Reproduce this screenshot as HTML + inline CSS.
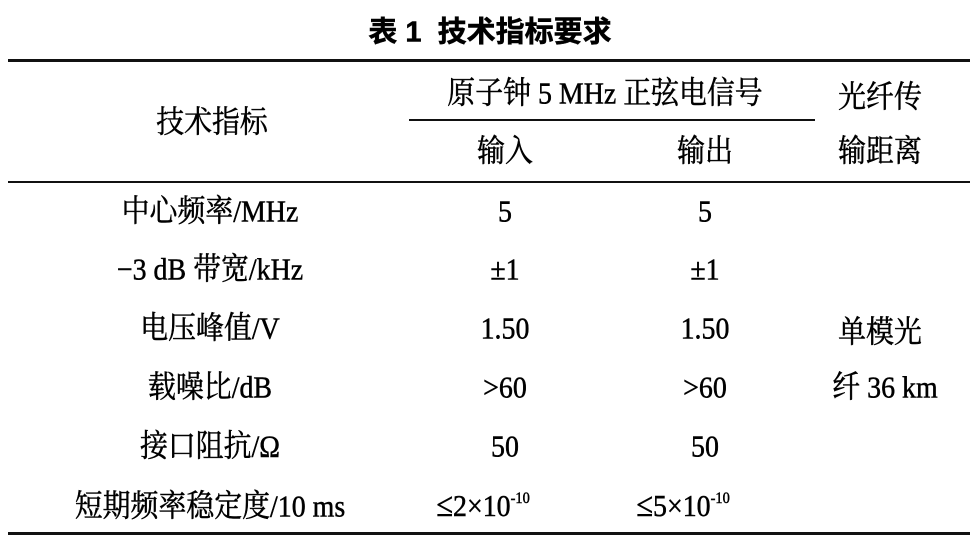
<!DOCTYPE html>
<html><head><meta charset="utf-8"><style>
body{margin:0;width:978px;height:548px;background:#fff;position:relative;overflow:hidden;font-family:"Liberation Serif","Noto Serif CJK SC",serif;color:#000}
.t{position:absolute;transform:translate(-50%,-50%) scaleX(0.9);white-space:nowrap;font-size:31px;line-height:1;-webkit-text-stroke:0.5px #000}
.r{position:absolute;background:#111}
sup{font-size:16px;vertical-align:13px}
.le{font-size:34px}
</style></head><body>
<div class="t" style="left:490px;top:33px;font-weight:bold;font-family:'Liberation Sans','Noto Sans CJK SC',sans-serif;font-size:29px;transform:translate(-50%,-50%)">表 1&nbsp; 技术指标要求</div>
<div class="r" style="left:8px;top:59px;width:962px;height:3px"></div>
<div class="r" style="left:409px;top:119px;width:406px;height:2px"></div>
<div class="r" style="left:8px;top:181px;width:962px;height:2px"></div>
<div class="r" style="left:8px;top:532px;width:962px;height:3px"></div>

<div class="t" style="left:212px;top:122px">技术指标</div>
<div class="t" style="left:605px;top:93px">原子钟 5 MHz 正弦电信号</div>
<div class="t" style="left:880px;top:97px">光纤传</div>
<div class="t" style="left:505px;top:151px">输入</div>
<div class="t" style="left:705px;top:151px">输出</div>
<div class="t" style="left:880px;top:151px">输距离</div>

<div class="t" style="left:210px;top:211px">中心频率/MHz</div>
<div class="t" style="left:505px;top:211px">5</div>
<div class="t" style="left:705px;top:211px">5</div>

<div class="t" style="left:210px;top:269px">−3 dB 带宽/kHz</div>
<div class="t" style="left:505px;top:269px">±1</div>
<div class="t" style="left:705px;top:269px">±1</div>

<div class="t" style="left:210px;top:328px">电压峰值/V</div>
<div class="t" style="left:505px;top:328px">1.50</div>
<div class="t" style="left:705px;top:328px">1.50</div>
<div class="t" style="left:880px;top:332px">单模光</div>

<div class="t" style="left:210px;top:387px">载噪比/dB</div>
<div class="t" style="left:505px;top:387px">&gt;60</div>
<div class="t" style="left:705px;top:387px">&gt;60</div>
<div class="t" style="left:885px;top:387px">纤 36 km</div>

<div class="t" style="left:210px;top:446px">接口阻抗/Ω</div>
<div class="t" style="left:505px;top:446px">50</div>
<div class="t" style="left:705px;top:446px">50</div>

<div class="t" style="left:210px;top:506px">短期频率稳定度/10 ms</div>
<div class="t" style="left:483px;top:506px"><span class="le">≤</span>2×10<sup>-10</sup></div>
<div class="t" style="left:683px;top:506px"><span class="le">≤</span>5×10<sup>-10</sup></div>
</body></html>
